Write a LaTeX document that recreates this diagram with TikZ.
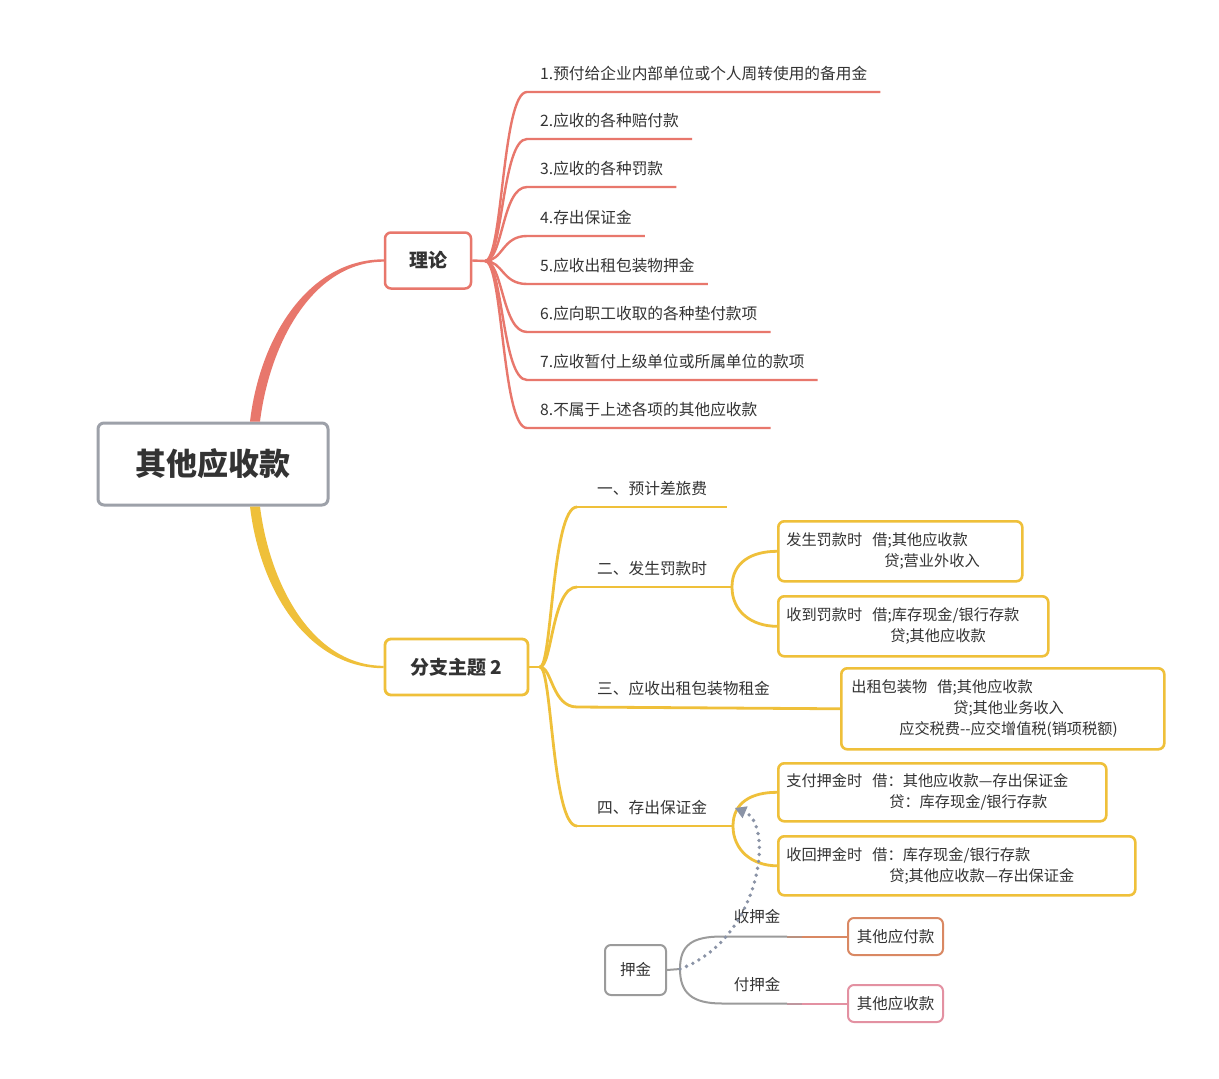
\documentclass[tikz,border=0pt]{standalone}
\usepackage{fontspec}
\setmainfont{Noto Sans CJK SC}
\usetikzlibrary{arrows.meta,calc}
\definecolor{redln}{HTML}{E8776C}
\definecolor{yelln}{HTML}{EFC03A}
\definecolor{rootln}{HTML}{9DA1A9}
\definecolor{greyln}{HTML}{9B9B9B}
\definecolor{txt}{HTML}{333333}
\definecolor{payln}{HTML}{D98863}
\definecolor{recvln}{HTML}{E391A2}
\definecolor{dotln}{HTML}{8A93A6}
\newcommand{\mmSize}[1]{\fontsize{#1}{#1}\selectfont}

\begin{document}
\begin{tikzpicture}[x=1pt,y=-1pt,
  every node/.style={text=txt},
  topic/.style={draw, rounded corners=6pt, fill=white, inner sep=0pt, font=\bfseries\mmSize{19}},
  item/.style={anchor=south west, inner xsep=13pt, inner ysep=11pt, font=\mmSize{15.7}},
  branch/.style={anchor=south west, inner xsep=20pt, inner ysep=11pt, font=\mmSize{15.7}},
  entry/.style={draw=yelln, line width=2.6pt, rounded corners=6pt, fill=white, anchor=north west, align=left, inner xsep=8pt, inner ysep=0pt, font=\fontsize{15.2}{21}\selectfont},
  leaf/.style={draw, line width=2pt, rounded corners=6pt, fill=white, minimum width=95pt, minimum height=37pt, inner sep=0pt, font=\mmSize{15.5}},
  tag/.style={font=\mmSize{15.5}, inner sep=0pt},
  redlink/.style={draw=redln, line width=2.4pt},
  yellink/.style={draw=yelln, line width=2.8pt},
  greylink/.style={draw=greyln, line width=2pt}]
\path[use as bounding box, fill=white] (0,0) rectangle (1219,1079);

\node[topic, draw=rootln, line width=3pt, minimum width=230pt, minimum height=82pt, font=\bfseries\mmSize{31}] (root) at (213,464) {其他应收款};
\node[topic, draw=redln, line width=2.5pt, minimum width=86pt, minimum height=56pt] (theory) at (428,260.5) {理论};
\node[topic, draw=yelln, line width=2.8pt, minimum width=143pt, minimum height=56pt] (branch2) at (456.5,667) {分支主题 2};

\fill[redln] ([xshift=37pt]root.north) .. controls +(10,-85) and +(-75,0) .. ([yshift=1.2pt]theory.west) -- ([yshift=-1.2pt]theory.west) .. controls +(-70,0) and +(10,-80) .. ([xshift=47pt]root.north) -- cycle;
\fill[yelln] ([xshift=37pt]root.south) .. controls +(10,85) and +(-75,0) .. ([yshift=-1.2pt]branch2.west) -- ([yshift=1.2pt]branch2.west) .. controls +(-70,0) and +(10,80) .. ([xshift=47pt]root.south) -- cycle;

\node[item] (i1) at (527,92) {1.预付给企业内部单位或个人周转使用的备用金};
\node[item] (i2) at (527,139) {2.应收的各种赔付款};
\node[item] (i3) at (527,187) {3.应收的各种罚款};
\node[item] (i4) at (527,236) {4.存出保证金};
\node[item] (i5) at (527,284) {5.应收出租包装物押金};
\node[item] (i6) at (527,332) {6.应向职工收取的各种垫付款项};
\node[item] (i7) at (527,380) {7.应收暂付上级单位或所属单位的款项};
\node[item] (i8) at (527,428) {8.不属于上述各项的其他应收款};
\coordinate (jt) at (485,261);
\draw[redlink] (theory.east) -- (jt);
\foreach \n in {1,...,8}
  \draw[redlink] (jt) .. controls +(18,0) and +(-25,0) .. (i\n.south west) -- (i\n.south east);

\node[branch] (b1) at (577,507) {一、预计差旅费};
\node[branch] (b2) at (577,587) {二、发生罚款时};
\node[branch] (b3) at (577,707) {三、应收出租包装物租金};
\node[branch] (b4) at (577,826) {四、存出保证金};
\coordinate (jb) at (540,667);
\coordinate (j2) at (732,587);
\coordinate (j4) at (733,826);

\node[entry, text width=228pt, minimum height=60pt] (fine1) at (777,520) {发生罚款时\ \ 借;其他应收款\\\hspace*{98pt}贷;营业外收入};
\node[entry, text width=254pt, minimum height=60pt] (fine2) at (777,595) {收到罚款时\ \ 借;库存现金/银行存款\\\hspace*{104pt}贷;其他应收款};
\node[entry, text width=303pt, inner xsep=10pt, minimum height=81pt] (rent) at (840,667) {出租包装物\ \ 借;其他应收款\\\hspace*{102pt}贷;其他业务收入\\\hspace*{48pt}应交税费-{}-应交增值税(销项税额)};
\node[entry, text width=312pt, minimum height=58pt] (pay) at (777,762) {支付押金时\ \ 借：其他应收款—存出保证金\\\hspace*{103pt}贷：库存现金/银行存款};
\node[entry, text width=341pt, minimum height=59pt] (back) at (777,835) {收回押金时\ \ 借：库存现金/银行存款\\\hspace*{103pt}贷;其他应收款—存出保证金};

\draw[yellink] (branch2.east) -- (jb);
\foreach \n in {1,...,4}
  \draw[yellink] (jb) .. controls +(12,0) and +(-25,0) .. (b\n.south west);
\draw[yellink] (b1.south west) -- (b1.south east);
\draw[yellink] (b2.south west) -- (j2);
\draw[yellink] (b3.south west) -- (rent.west);
\draw[yellink] (b4.south west) -- (j4);
\draw[yellink] (j2) .. controls +(0,-25) and +(-25,0) .. (fine1.west);
\draw[yellink] (j2) .. controls +(0,25) and +(-25,0) .. (fine2.west);
\draw[yellink] (j4) .. controls +(0,-24) and +(-25,0) .. (pay.west);
\draw[yellink] (j4) .. controls +(0,24) and +(-25,0) .. (back.west);

\node[leaf, draw=greyln, minimum width=61pt, minimum height=50pt] (deposit) at (635.5,970) {押金};
\node[leaf, draw=payln] (otherpay) at (895.5,936.5) {其他应付款};
\node[leaf, draw=recvln] (otherrecv) at (895.5,1003.5) {其他应收款};
\node[tag] (take) at (757,917) {收押金};
\node[tag] (give) at (757,985) {付押金};
\coordinate (jd) at (680,969);
\coordinate (tip) at (735,808);
\draw[greylink] (deposit.east) -- (jd);
\draw[greylink] (jd) .. controls +(0,-24) and +(-30,0) .. ($(otherpay.west)+(-125,0)$) -- ($(otherpay.west)+(-60,0)$);
\draw[greylink, draw=greyln!50!payln] ($(otherpay.west)+(-60,0)$) -- ($(otherpay.west)+(-45,0)$);
\draw[greylink, draw=payln] ($(otherpay.west)+(-45,0)$) -- (otherpay.west);
\draw[greylink] (jd) .. controls +(0,24) and +(-30,0) .. ($(otherrecv.west)+(-125,0)$) -- ($(otherrecv.west)+(-60,0)$);
\draw[greylink, draw=greyln!50!recvln] ($(otherrecv.west)+(-60,0)$) -- ($(otherrecv.west)+(-45,0)$);
\draw[greylink, draw=recvln] ($(otherrecv.west)+(-45,0)$) -- (otherrecv.west);
\draw[dotln, line width=3.8pt, line cap=round, dash pattern=on 0pt off 7pt, -{Triangle[width=13pt,length=11pt,line width=0pt]}] (jd) .. controls (760,940) and (775,825) .. (tip);
\end{tikzpicture}
\end{document}
